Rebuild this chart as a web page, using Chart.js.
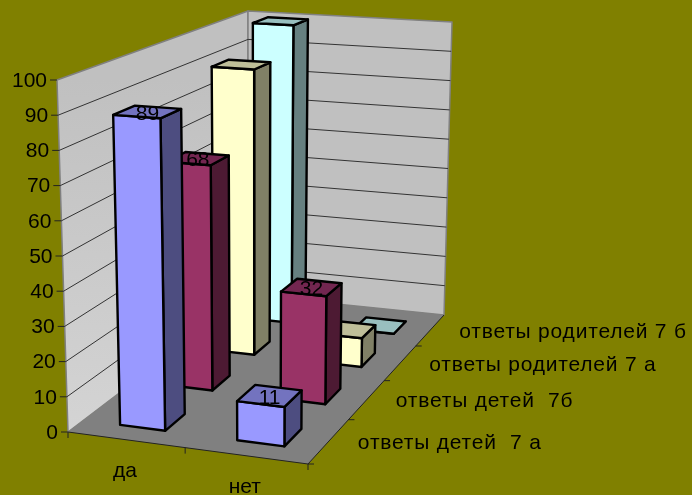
<!DOCTYPE html>
<html>
<head>
<meta charset="utf-8">
<script src="https://cdn.jsdelivr.net/npm/chart.js@4"></script>
<style>
  html, body { margin: 0; padding: 0; background: #808000; }
  canvas { display: block; }
</style>
</head>
<body>
<canvas id="chart" width="692" height="495"></canvas>
<script>
const categories = ['да', 'нет'];
const seriesNames = ['ответы детей  7 а', 'ответы детей  7б', 'ответы родителей 7 а', 'ответы родителей 7 б'];
const kids7a = [89, 11];
const kids7b = [68, 32];
const parents7a = [91, 9];
const parents7b = [100, 0];
const showLabels = [true, true, false, false];

// front, top, side shades per series
const faceColors = [
    ['#9999FF', '#7373BF', '#4D4D80'],
    ['#993366', '#732650', '#4D1A33'],
    ['#FFFFCC', '#BFBF99', '#808066'],
    ['#CCFFFF', '#99BFBF', '#668080']
];

// Corners of the plot box on screen: front-left, front-right, back-right, back-left
const floorQuad = [[68, 432], [308, 464], [444, 315], [248, 295]];
const topQuad = [[57, 80], [310, 97], [452, 22], [248, 11]];
const depthFill = 0.40;
const depthCenter = 0.48;
const barShift = 2;
const font = '"Liberation Sans", sans-serif';

function quadMap(q) {
    const [[x0, y0], [x1, y1], [x2, y2], [x3, y3]] = q;
    const dx1 = x1 - x2, dx2 = x3 - x2, sx = x0 - x1 + x2 - x3;
    const dy1 = y1 - y2, dy2 = y3 - y2, sy = y0 - y1 + y2 - y3;
    const det = dx1 * dy2 - dx2 * dy1;
    const g = (sx * dy2 - dx2 * sy) / det;
    const h = (dx1 * sy - sx * dy1) / det;
    const a = x1 - x0 + g * x1, b = x3 - x0 + h * x3;
    const d = y1 - y0 + g * y1, e = y3 - y0 + h * y3;
    return (u, w) => {
        const t = g * u + h * w + 1;
        return [(a * u + b * w + x0) / t, (d * u + e * w + y0) / t];
    };
}

const floorMap = quadMap(floorQuad);
const topMap = quadMap(topQuad);

const box3d = {
    id: 'box3d',
    beforeDatasetsDraw(chart) {
        const ctx = chart.ctx;
        const area = chart.chartArea;
        const yScale = chart.scales.y;

        // pixel position on the flat scales + depth (0..1) -> screen point
        const project = (px, py, w) => {
            const u = (px - area.left) / (area.right - area.left);
            const v = (area.bottom - py) / (area.bottom - area.top);
            const a = floorMap(u, w), b = topMap(u, w);
            return [a[0] + (b[0] - a[0]) * v, a[1] + (b[1] - a[1]) * v];
        };
        const poly = (pts, fill, stroke, lw) => {
            ctx.beginPath();
            pts.forEach((p, i) => i ? ctx.lineTo(p[0], p[1]) : ctx.moveTo(p[0], p[1]));
            ctx.closePath();
            if (fill) { ctx.fillStyle = fill; ctx.fill(); }
            if (stroke) { ctx.strokeStyle = stroke; ctx.lineWidth = lw; ctx.lineJoin = 'round'; ctx.stroke(); }
        };
        const line = (a, b, color, lw) => {
            ctx.beginPath();
            ctx.moveTo(a[0], a[1]);
            ctx.lineTo(b[0], b[1]);
            ctx.strokeStyle = color;
            ctx.lineWidth = lw;
            ctx.stroke();
        };
        const L = area.left, R = area.right, T = area.top, B = area.bottom;

        // Walls and floor
        const leftWall = ctx.createLinearGradient(0, T, 0, B);
        leftWall.addColorStop(0, '#C0C0C0');
        leftWall.addColorStop(1, '#D4D4D4');
        poly([project(L, B, 0), project(L, T, 0), project(L, T, 1), project(L, B, 1)], leftWall, '#808080', 1.5);
        poly([project(L, B, 1), project(L, T, 1), project(R, T, 1), project(R, B, 1)], '#C0C0C0', '#808080', 1.5);
        poly([project(L, B, 0), project(R, B, 0), project(R, B, 1), project(L, B, 1)], '#808080');

        // Grid lines and value axis
        ctx.font = '21px ' + font;
        ctx.textAlign = 'right';
        ctx.textBaseline = 'middle';
        yScale.ticks.forEach(t => {
            const py = yScale.getPixelForValue(t.value);
            const p = project(L, py, 0);
            if (t.value > 0 && t.value < 100) {
                line(p, project(L, py, 1), '#333', 1);
                line(project(L, py, 1), project(R, py, 1), '#333', 1);
            }
            line([p[0] - 7, p[1]], p, '#222', 1);
            ctx.fillStyle = '#000';
            ctx.fillText(String(t.value), p[0] - 10, p[1] + 1);
        });

        // Front and right floor edges with their ticks
        line(project(L, B, 0), project(R, B, 0), '#222', 1);
        line(project(R, B, 0), project(R, B, 1), '#222', 1);
        [0, 0.5, 1].forEach(f => {
            const p = project(L + (R - L) * f, B, 0);
            line(p, [p[0], p[1] + 6], '#222', 1);
        });
        seriesNames.forEach((n, i) => {
            const p = project(R, B, i / 4);
            line(p, [p[0] + 6, p[1]], '#222', 1);
        });

        // Category and series labels
        ctx.font = '21px ' + font;
        ctx.fillStyle = '#000';
        ctx.textAlign = 'center';
        const xScale = chart.scales.x;
        categories.forEach((c, i) => {
            const p = project(xScale.getPixelForValue(i), B, 0);
            ctx.fillText(c, p[0] - 1, p[1] + 31);
        });
        ctx.textAlign = 'left';
        ctx.letterSpacing = '0.8px';
        seriesNames.forEach((n, i) => {
            const p = project(R, B, (i + 0.5) / 4);
            ctx.fillText(n, p[0] + 29, p[1] + 2);
        });
        ctx.letterSpacing = '0px';

        // Boxes, back series first
        for (let i = chart.data.datasets.length - 1; i >= 0; i--) {
            const meta = chart.getDatasetMeta(i);
            const [front, top, side] = faceColors[i];
            const w0 = (i + depthCenter - depthFill / 2) / 4;
            const w1 = (i + depthCenter + depthFill / 2) / 4;
            meta.data.forEach((bar, k) => {
                const x0 = bar.x - bar.width / 2 + barShift, x1 = bar.x + bar.width / 2 + barShift;
                const yt = bar.y, yb = bar.base;
                poly([project(x1, yb, w0), project(x1, yb, w1), project(x1, yt, w1), project(x1, yt, w0)], side, '#000', 2.4);
                poly([project(x0, yb, w0), project(x1, yb, w0), project(x1, yt, w0), project(x0, yt, w0)], front, '#000', 2.4);
                poly([project(x0, yt, w0), project(x1, yt, w0), project(x1, yt, w1), project(x0, yt, w1)], top, '#000', 2.4);
                if (showLabels[i]) {
                    const c = project(bar.x + barShift, yt, (w0 + w1) / 2);
                    ctx.font = '21px ' + font;
                    ctx.textAlign = 'center';
                    ctx.fillStyle = '#000';
                    ctx.fillText(String(chart.data.datasets[i].data[k]), c[0], c[1] + 2);
                }
            });
        }
    }
};

new Chart(document.getElementById('chart').getContext('2d'), {
    type: 'bar',
    data: {
        labels: categories,
        datasets: [kids7a, kids7b, parents7a, parents7b].map((values, i) => ({
            label: seriesNames[i],
            data: values,
            grouped: false,
            barPercentage: 0.39,
            categoryPercentage: 1,
            backgroundColor: 'transparent'
        }))
    },
    options: {
        responsive: false,
        animation: false,
        layout: { padding: { left: 68, right: 384, top: 80, bottom: 63 } },
        plugins: { legend: { display: false }, tooltip: { enabled: false } },
        scales: {
            x: { display: false },
            y: { display: false, min: 0, max: 100, ticks: { stepSize: 10 } }
        }
    },
    plugins: [box3d]
});
</script>
</body>
</html>
